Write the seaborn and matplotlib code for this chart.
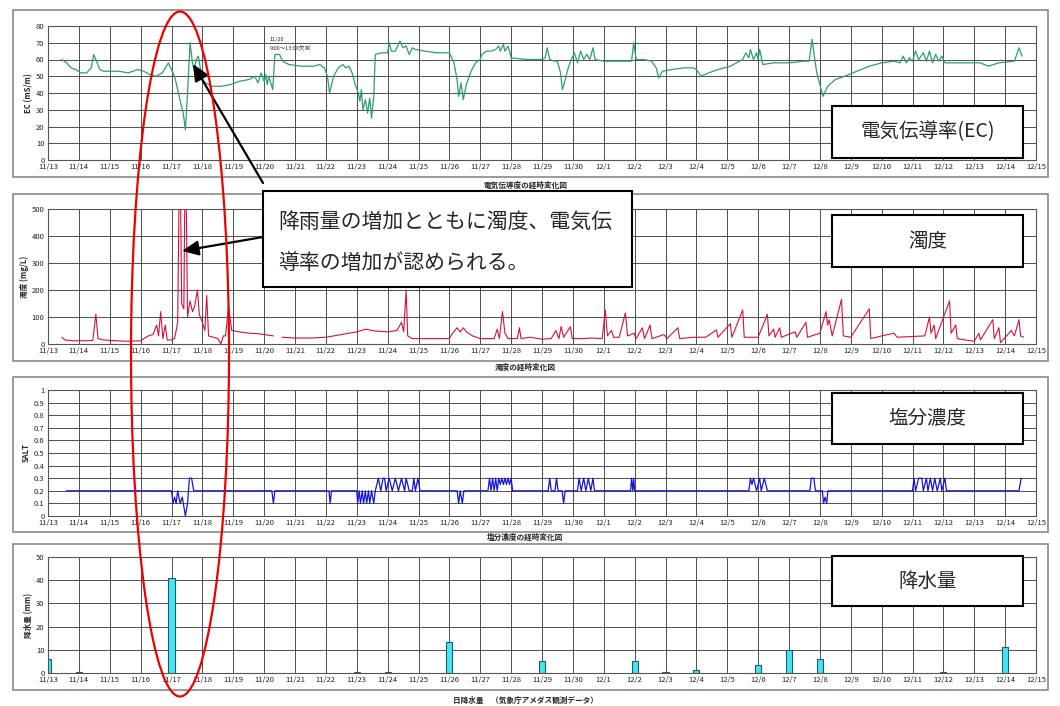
import numpy as np
import pandas as pd
import matplotlib
matplotlib.use('Agg')
import matplotlib.pyplot as plt
import seaborn as sns
from matplotlib.patches import Rectangle, Ellipse, FancyArrowPatch, ArrowStyle

# x axis = days counted from 11/13 0:00
start = pd.Timestamp('2000-11-13')
dates = pd.date_range('2000-11-13', '2000-12-15')
tick_labels = [f'{d.month}/{d.day}' for d in dates]

# electric conductivity (mS/m)
ec_day = [0.45, 0.6, 0.75, 0.9, 1.05, 1.25, 1.4, 1.48, 1.55, 1.68,
          1.8, 2.0, 2.3, 2.6, 2.9, 3.1, 3.3, 3.5, 3.7, 3.8,
          3.9, 4.0, 4.1, 4.2, 4.3, 4.38, 4.45, 4.52, 4.6, 4.68,
          4.73, 4.8, 4.87, 4.93, 5.0, 5.1, 5.3, 5.6, 5.9, 6.2,
          6.5, 6.7, 6.8, 6.9, 7.0, 7.05, 7.1, 7.15, 7.2, 7.28,
          7.35, 7.5, 7.6, 7.8, 8.2, 8.6, 8.8, 8.95, 9.05, 9.12,
          9.25, 9.4, 9.55, 9.65, 9.75, 9.85, 9.95, 10.05, 10.1, 10.15,
          10.2, 10.28, 10.35, 10.42, 10.48, 10.55, 10.6, 10.8, 11.0, 11.05,
          11.12, 11.25, 11.4, 11.5, 11.6, 11.7, 11.8, 11.9, 12.2, 12.6,
          13.0, 13.15, 13.25, 13.3, 13.38, 13.45, 13.55, 13.7, 13.85, 14.0,
          14.05, 14.2, 14.35, 14.5, 14.6, 14.65, 14.75, 14.8, 14.9, 14.95,
          15.0, 15.5, 16.0, 16.1, 16.17, 16.25, 16.4, 16.5, 16.6, 16.66,
          16.75, 16.85, 16.95, 17.05, 17.15, 17.25, 17.35, 17.45, 17.55, 17.65,
          17.72, 18.0, 18.5, 18.9, 18.97, 19.05, 19.3, 19.55, 19.7, 19.78,
          19.9, 20.2, 20.6, 20.9, 21.0, 21.15, 21.4, 21.7, 21.9, 22.1,
          22.3, 22.5, 22.6, 22.7, 22.75, 22.85, 22.95, 23.0, 23.05, 23.15,
          23.5, 24.0, 24.5, 24.65, 24.75, 24.82, 24.9, 25.0, 25.1, 25.25,
          25.5, 25.8, 26.2, 26.6, 27.0, 27.4, 27.6, 27.7, 27.8, 27.9,
          28.0, 28.1, 28.2, 28.35, 28.45, 28.55, 28.65, 28.75, 28.85, 28.95,
          29.05, 29.5, 30.2, 30.45, 30.8, 31.3, 31.45, 31.55]
ec_val = [60, 58, 55, 54, 52, 52, 55, 63, 60, 54,
          53, 53, 53, 52, 54, 53, 51, 50, 52, 55,
          58, 54, 50, 42, 34, 28, 18, 40, 70, 58,
          54, 60, 62, 55, 48, 46, 44, 44, 45, 47,
          48, 50, 46, 52, 47, 51, 45, 50, 47, 42,
          63, 63, 59, 57, 56, 56, 57, 55, 50, 40,
          50, 55, 57, 55, 56, 52, 45, 40, 35, 42,
          30, 36, 28, 37, 25, 38, 63, 64, 64, 70,
          65, 65, 71, 67, 68, 63, 67, 66, 65, 64,
          64, 58, 48, 38, 46, 36, 45, 53, 58, 60,
          63, 65, 65, 66, 68, 65, 69, 65, 68, 65,
          61, 60, 60, 61, 67, 60, 59, 59, 52, 42,
          48, 55, 60, 64, 58, 65, 60, 63, 60, 67,
          60, 59, 59, 59, 70, 60, 60, 59, 55, 49,
          53, 54, 55, 55, 54, 50, 52, 54, 55, 56,
          58, 60, 64, 61, 66, 60, 64, 60, 66, 57,
          58, 58, 59, 59, 72, 62, 52, 45, 38, 44,
          48, 50, 53, 56, 58, 59, 58, 62, 58, 61,
          59, 65, 60, 64, 59, 65, 58, 63, 59, 62,
          58, 58, 58, 56, 58, 59, 67, 62]

# turbidity (mg/L), two pieces around the 11/20 gap
turb_day_a = [0.45, 0.55, 0.8, 1.2, 1.45, 1.55, 1.62, 1.8, 2.2, 2.6,
              3.0, 3.1, 3.25, 3.4, 3.52, 3.58, 3.65, 3.72, 3.8, 3.86,
              4.0, 4.1, 4.2, 4.27, 4.33, 4.4, 4.45, 4.52, 4.6, 4.68,
              4.75, 4.84, 4.9, 5.0, 5.08, 5.14, 5.2, 5.35, 5.5, 5.6,
              5.68, 5.75, 5.85, 5.95, 6.2, 6.5, 6.8, 7.0, 7.3]
turb_val_a = [25, 15, 12, 12, 13, 110, 20, 15, 12, 10,
              12, 20, 30, 35, 70, 30, 120, 20, 70, 15,
              15, 20, 80, 800, 150, 130, 800, 100, 160, 120,
              140, 200, 110, 80, 50, 180, 30, 25, 20, 0,
              30, 30, 140, 50, 45, 40, 38, 35, 30]
turb_day_b = [7.58, 8.0, 8.5, 9.0, 9.5, 10.0, 10.3, 10.6, 11.0, 11.3,
              11.45, 11.52, 11.6, 11.65, 11.8, 12.5, 13.0, 13.1, 13.25, 13.35,
              13.45, 13.55, 13.75, 14.0, 14.45, 14.55, 14.62, 14.72, 14.8, 14.9,
              15.2, 15.27, 15.32, 15.6, 16.0, 16.3, 16.45, 16.55, 16.62, 16.7,
              16.92, 16.98, 17.3, 17.6, 17.95, 18.05, 18.12, 18.25, 18.32, 18.5,
              18.7, 18.77, 18.98, 19.05, 19.25, 19.32, 19.5, 19.56, 19.95, 20.05,
              20.4, 20.46, 20.9, 21.3, 21.65, 21.7, 22.1, 22.15, 22.5, 22.55,
              23.0, 23.3, 23.35, 23.5, 23.55, 23.7, 23.75, 24.2, 24.25, 24.55,
              24.6, 25.0, 25.2, 25.25, 25.3, 25.4, 25.7, 25.76, 26.0, 26.6,
              26.65, 27.0, 27.4, 27.5, 28.4, 28.55, 28.6, 28.7, 28.75, 29.2,
              29.25, 29.4, 29.45, 29.7, 30.0, 30.15, 30.2, 30.6, 30.65, 30.8,
              30.85, 31.2, 31.3, 31.45, 31.5, 31.6]
turb_val_b = [25, 22, 22, 25, 35, 45, 55, 48, 45, 50,
              80, 45, 200, 30, 20, 20, 20, 40, 60, 45,
              60, 45, 30, 20, 20, 55, 20, 120, 40, 20,
              20, 60, 20, 25, 18, 20, 50, 20, 65, 25,
              64, 20, 20, 22, 20, 125, 30, 50, 25, 25,
              115, 30, 40, 20, 60, 20, 70, 20, 35, 20,
              60, 20, 25, 25, 52, 25, 75, 25, 126, 25,
              25, 110, 30, 55, 25, 60, 25, 45, 25, 80,
              25, 40, 120, 70, 90, 30, 165, 30, 25, 130,
              20, 30, 40, 25, 30, 100, 40, 70, 20, 160,
              40, 70, 20, 15, 10, 40, 15, 90, 20, 60,
              5, 50, 30, 90, 30, 25]

# salinity
sal_day = [0.6, 4.0, 4.05, 4.1, 4.15, 4.2, 4.28, 4.35, 4.45, 4.52,
           4.58, 4.65, 4.72, 7.25, 7.3, 7.35, 9.1, 9.14, 9.18, 10.0,
           10.03, 10.08, 10.12, 10.18, 10.22, 10.28, 10.32, 10.38, 10.42, 10.48,
           10.55, 10.6, 10.7, 10.78, 10.85, 10.9, 10.95, 11.05, 11.15, 11.25,
           11.35, 11.45, 11.55, 11.6, 11.7, 11.8, 11.85, 11.9, 11.98, 12.05,
           13.25, 13.3, 13.35, 13.42, 13.47, 14.25, 14.3, 14.35, 14.4, 14.45,
           14.5, 14.55, 14.6, 14.65, 14.7, 14.75, 14.8, 14.85, 14.9, 14.95,
           15.0, 15.05, 16.2, 16.25, 16.3, 16.42, 16.47, 16.52, 16.65, 16.7,
           16.75, 17.15, 17.2, 17.27, 17.35, 17.42, 17.5, 17.58, 17.65, 17.7,
           18.87, 18.9, 18.94, 18.97, 19.0, 22.7, 22.75, 22.8, 22.85, 22.95,
           23.05, 23.1, 23.2, 23.3, 24.68, 24.72, 24.8, 24.86, 25.08, 25.12,
           25.17, 25.22, 25.26, 28.0, 28.05, 28.1, 28.2, 28.3, 28.35, 28.45,
           28.5, 28.58, 28.65, 28.72, 28.8, 28.9, 28.95, 29.05, 29.1, 31.45,
           31.52]
sal_val = [0.2, 0.2, 0.1, 0.15, 0.1, 0.2, 0.1, 0.15, 0.0, 0.1,
           0.3, 0.3, 0.2, 0.2, 0.1, 0.2, 0.2, 0.1, 0.2, 0.2,
           0.1, 0.2, 0.1, 0.2, 0.1, 0.2, 0.1, 0.2, 0.1, 0.2,
           0.1, 0.2, 0.3, 0.2, 0.3, 0.3, 0.2, 0.3, 0.2, 0.3,
           0.2, 0.3, 0.2, 0.3, 0.2, 0.2, 0.3, 0.2, 0.3, 0.2,
           0.2, 0.1, 0.2, 0.1, 0.2, 0.2, 0.3, 0.2, 0.3, 0.2,
           0.3, 0.2, 0.3, 0.25, 0.3, 0.25, 0.3, 0.25, 0.3, 0.25,
           0.3, 0.2, 0.2, 0.3, 0.2, 0.2, 0.3, 0.2, 0.2, 0.1,
           0.2, 0.2, 0.3, 0.2, 0.3, 0.2, 0.3, 0.2, 0.3, 0.2,
           0.2, 0.3, 0.2, 0.3, 0.2, 0.2, 0.3, 0.25, 0.3, 0.2,
           0.3, 0.2, 0.3, 0.2, 0.2, 0.3, 0.3, 0.2, 0.2, 0.1,
           0.15, 0.1, 0.2, 0.2, 0.3, 0.2, 0.3, 0.3, 0.2, 0.3,
           0.2, 0.3, 0.2, 0.3, 0.2, 0.3, 0.2, 0.3, 0.2, 0.2,
           0.3]

# daily rainfall (mm)
rain_date = ['11/13', '11/14', '11/17', '11/23', '11/24', '11/26', '11/29', '12/2',
             '12/3', '12/4', '12/6', '12/7', '12/8', '12/12', '12/14']
rain_mm = [6, 0.5, 41, 0.4, 0.4, 13.5, 5, 5, 0.3, 1.4, 3.3, 10, 6, 0.3, 11]

sns.set_theme(style='white')
plt.rcParams['font.family'] = ['Noto Sans CJK JP', 'DejaVu Sans']

W, H = 1060, 706
fig = plt.figure(figsize=(10.6, 7.06), dpi=100)


def fig_rect(x0, y0, x1, y1):
    return [x0 / W, 1 - y1 / H, (x1 - x0) / W, (y1 - y0) / H]


def style_axis(ax, ymax, ystep, ylabel):
    ax.set_xlim(0, 32)
    ax.set_ylim(0, ymax)
    ax.set_xticks(range(33))
    ax.set_xticklabels(tick_labels)
    ax.set_yticks(np.round(np.arange(0, ymax + ystep / 2, ystep), 2))
    ax.yaxis.set_major_formatter(matplotlib.ticker.FormatStrFormatter('%g'))
    ax.grid(True, color='#333333', lw=0.6)
    ax.set_axisbelow(True)
    ax.tick_params(length=0, pad=2.5, labelsize=5.5, colors='#222222')
    ax.set_xlabel('')
    ax.set_ylabel(ylabel, fontsize=5.5, labelpad=2, fontweight='bold')
    for s in ax.spines.values():
        s.set_color('#555555')
        s.set_linewidth(0.8)


# panel frames and captions
frames = [(13, 10, 1048, 177), (13, 194, 1048, 361), (13, 377, 1048, 532), (13, 544, 1048, 690)]
for x0, y0, x1, y1 in frames:
    fig.add_artist(Rectangle((x0 / W, 1 - y1 / H), (x1 - x0) / W, (y1 - y0) / H,
                             transform=fig.transFigure, fill=False, ec='#8a8a8a', lw=1.2))
captions = [('電気伝導度の経時変化図', 185), ('濁度の経時変化図', 367),
            ('塩分濃度の経時変化図', 537), ('日降水量　（気象庁アメダス観測データ）', 700)]
for txt, y in captions:
    fig.text(525 / W, 1 - y / H, txt, fontsize=5.5, fontweight='bold', ha='center', va='center')

# 1. EC
ax1 = fig.add_axes(fig_rect(48, 26, 1036, 160))
ec = pd.DataFrame({'day': ec_day, 'EC': ec_val})
sns.lineplot(data=ec, x='day', y='EC', ax=ax1, color='#2ca06a', lw=0.9, estimator=None, sort=False)
style_axis(ax1, 80, 10, 'EC (mS/m)')
fig.text(270 / W, 1 - 39 / H, '11/20', fontsize=4, va='center')
fig.text(270 / W, 1 - 48 / H, '9:00～13:00欠測', fontsize=4, va='center')

# 2. turbidity
ax2 = fig.add_axes(fig_rect(48, 209, 1036, 344))
turb = pd.concat([pd.DataFrame({'day': turb_day_a, 'val': turb_val_a, 'seg': 0}),
                  pd.DataFrame({'day': turb_day_b, 'val': turb_val_b, 'seg': 1})])
sns.lineplot(data=turb, x='day', y='val', units='seg', ax=ax2, color='#d4103e', lw=0.8,
             estimator=None, sort=False)
style_axis(ax2, 500, 100, '濁度 (mg/L)')

# 3. salinity
ax3 = fig.add_axes(fig_rect(48, 390, 1036, 516))
sal = pd.DataFrame({'day': sal_day, 'SALT': sal_val})
sns.lineplot(data=sal, x='day', y='SALT', ax=ax3, color='#1515d8', lw=0.9, estimator=None, sort=False)
style_axis(ax3, 1.0, 0.1, 'SALT')

# 4. rainfall
ax4 = fig.add_axes(fig_rect(48, 557, 1036, 673))
rain = pd.DataFrame({'date': rain_date, 'mm': rain_mm})
rain['day'] = (pd.to_datetime('2000/' + rain['date'], format='%Y/%m/%d') - start).dt.days
sns.barplot(data=rain, x='day', y='mm', ax=ax4, native_scale=True, width=0.2, color='#48e4f4',
            edgecolor='#16606e', linewidth=0.8, errorbar=None, saturation=1)
style_axis(ax4, 50, 10, '降水量 (mm)')


# label boxes
def label_box(x0, y0, x1, y1, text, size):
    fig.add_artist(Rectangle((x0 / W, 1 - y1 / H), (x1 - x0) / W, (y1 - y0) / H,
                             transform=fig.transFigure, fc='white', ec='black', lw=1.5, zorder=5))
    fig.text((x0 + x1) / 2 / W, 1 - (y0 + y1) / 2 / H, text, fontsize=size,
             ha='center', va='center', zorder=6)


label_box(832, 106, 1023, 158, '電気伝導率(EC)', 14)
label_box(832, 215, 1023, 267, '濁度', 14)
label_box(832, 393, 1023, 444, '塩分濃度', 14)
label_box(832, 556, 1023, 606, '降水量', 14)

# comment box
fig.add_artist(Rectangle((263 / W, 1 - 287 / H), (632 - 263) / W, (287 - 191) / H,
                         transform=fig.transFigure, fc='white', ec='black', lw=1.5, zorder=5))
fig.text(278 / W, 1 - 222 / H, '降雨量の増加とともに濁度、電気伝', fontsize=15, va='center', zorder=6)
fig.text(278 / W, 1 - 263 / H, '導率の増加が認められる。', fontsize=15, va='center', zorder=6)

# arrows and red ellipse
head = ArrowStyle('-|>', head_length=1.0, head_width=0.45)
for tail, tip in [((263, 183), (193, 64)), ((263, 237), (182, 251))]:
    fig.add_artist(FancyArrowPatch((tail[0] / W, 1 - tail[1] / H), (tip[0] / W, 1 - tip[1] / H),
                                   transform=fig.transFigure, arrowstyle=head, mutation_scale=10,
                                   lw=1.6, color='black', shrinkA=0, shrinkB=0, zorder=10))
fig.add_artist(Ellipse((180 / W, 1 - 354 / H), 98 / W, 685 / H, transform=fig.transFigure,
                       fill=False, ec='#ee0000', lw=1.6, zorder=10))

plt.savefig('out.png', dpi=100)
plt.close()
